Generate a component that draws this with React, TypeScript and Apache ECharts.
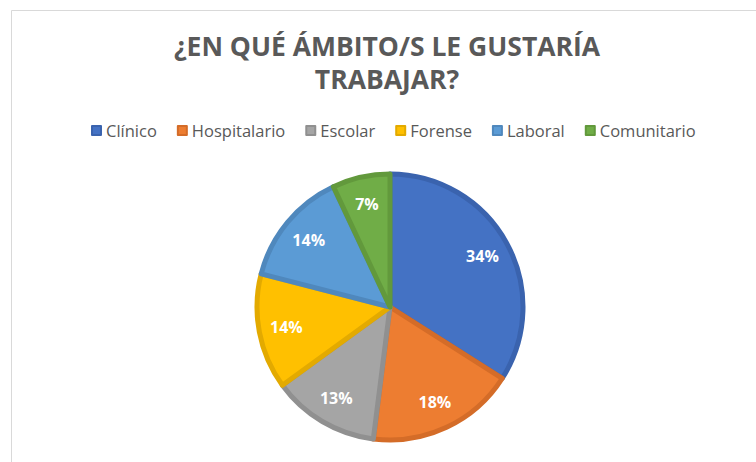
import React, { useEffect, useRef } from "react";
import * as echarts from "echarts";

const categories = ["Clínico", "Hospitalario", "Escolar", "Forense", "Laboral", "Comunitario"];
const values = [34, 18, 13, 14, 14, 7];
const fillColors = ["#4472C4", "#ED7D31", "#A5A5A5", "#FFC000", "#5B9BD5", "#70AD47"];
const borderColors = ["#3A63AE", "#D46C28", "#909090", "#E3AA00", "#4F88BD", "#62993C"];
const titleText = "¿EN QUÉ ÁMBITO/S LE GUSTARÍA\nTRABAJAR?";

export default function App() {
  const ref = useRef<HTMLDivElement>(null);
  useEffect(() => {
    if (!ref.current) return;
    const chart = echarts.init(ref.current, undefined, { renderer: "svg" });
    const font = "'Open Sans', Lato, sans-serif";
    chart.setOption({
      animation: false,
      backgroundColor: "#ffffff",
      title: {
        text: titleText,
        left: 382,
        top: 24,
        textAlign: "center",
        textStyle: {
          fontFamily: font,
          fontSize: 26.5,
          fontWeight: "bold",
          color: "#595959",
          lineHeight: 33,
        },
      },
      legend: {
        data: categories,
        left: 86,
        top: 117,
        icon: "rect",
        itemWidth: 9,
        itemHeight: 9,
        itemGap: 20,
        textStyle: { fontFamily: font, fontSize: 16.5, color: "#595959" },
      },
      graphic: [
        {
          type: "rect",
          shape: { x: 11.5, y: 10.5, width: 900, height: 600 },
          style: { fill: "none", stroke: "#d9d9d9", lineWidth: 1 },
          silent: true,
          z: -10,
        },
      ],
      series: [
        {
          type: "pie",
          center: [390, 307],
          radius: [0, 133],
          startAngle: 90,
          clockwise: true,
          label: { show: false },
          labelLine: { show: false },
          emphasis: { disabled: true },
          data: categories.map((name, i) => ({
            name,
            value: values[i],
            itemStyle: { color: fillColors[i], borderColor: borderColors[i], borderWidth: 5 },
          })),
        },
        {
          type: "pie",
          center: [390, 307],
          radius: [72, 133],
          startAngle: 90,
          clockwise: true,
          silent: true,
          itemStyle: { color: "transparent", borderWidth: 0 },
          label: {
            show: true,
            position: "inside",
            formatter: "{d}%",
            fontFamily: font,
            fontSize: 16,
            fontWeight: "bold",
            color: "#ffffff",
          },
          labelLine: { show: false },
          emphasis: { disabled: true },
          data: categories.map((name, i) => ({ name, value: values[i] })),
        },
      ],
    });
    return () => chart.dispose();
  }, []);
  return (
    <div
      ref={ref}
      style={{ position: "fixed", left: 0, top: 0, width: 756, height: 462 }}
    />
  );
}
